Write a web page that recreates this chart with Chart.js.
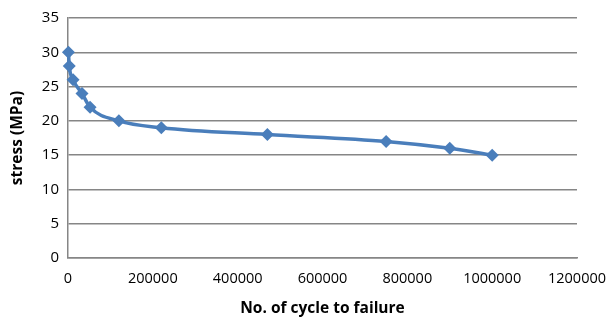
<!DOCTYPE html>
<html>
<head>
<meta charset="utf-8">
<script src="https://cdn.jsdelivr.net/npm/chart.js@4/dist/chart.umd.min.js"></script>
<style>
html,body{margin:0;padding:0;background:#fff;}
#wrap{width:609px;height:322px;}
</style>
</head>
<body>
<div id="wrap"><canvas id="c" width="609" height="322"></canvas></div>
<script>
const cycles = [1000, 3000, 12000, 33000, 52000, 120000, 220000, 470000, 750000, 900000, 1000000];
const stress = [30, 28, 26, 24, 22, 20, 19, 18, 17, 16, 15];
const xTicks = [0, 200000, 400000, 600000, 800000, 1000000, 1200000];
const yTicks = [0, 5, 10, 15, 20, 25, 30, 35];
const xTitle = 'No. of cycle to failure';
const yTitle = 'stress (MPa)';

const pts = cycles.map((x, i) => ({x: x, y: stress[i]}));
const FONT = 'Open Sans';

new Chart(document.getElementById('c'), {
  type: 'scatter',
  data: {
    datasets: [{
      data: pts,
      showLine: true,
      clip: false,
      borderColor: '#4A7EBB',
      backgroundColor: '#4A7EBB',
      borderWidth: 3.5,
      cubicInterpolationMode: 'monotone',
      pointStyle: 'rectRot',
      pointRadius: 6.5,
      pointHoverRadius: 6.5,
      pointBorderWidth: 0
    }]
  },
  options: {
    responsive: false,
    animation: false,
    devicePixelRatio: 1,
    layout: {padding: {top: 16, right: 20, left: 4, bottom: 0}},
    plugins: {legend: {display: false}, tooltip: {enabled: false}},
    scales: {
      x: {
        type: 'linear',
        min: 0, max: 1200000,
        afterBuildTicks: s => { s.ticks = xTicks.map(v => ({value: v})); },
        afterFit: s => { s.height = 64; s.paddingRight = 32; s.paddingLeft = 0; },
        grid: {display: false, drawTicks: false},
        border: {display: true, color: '#868686', width: 1.5},
        ticks: {color: '#000', font: {family: FONT, size: 14.5}, padding: 12, maxRotation: 0, autoSkip: false,
                callback: v => String(v)},
        title: {display: true, text: xTitle, color: '#000', font: {family: FONT, size: 15.5, weight: 'bold'}, padding: {top: 8}}
      },
      y: {
        min: 0, max: 35,
        afterBuildTicks: s => { s.ticks = yTicks.map(v => ({value: v})); },
        afterFit: s => { s.width = 64; },
        grid: {color: '#868686', lineWidth: 1.5, drawTicks: false},
        border: {display: true, color: '#868686', width: 1.5},
        ticks: {color: '#000', font: {family: FONT, size: 15}, padding: 9},
        title: {display: true, text: yTitle, color: '#000', font: {family: FONT, size: 15.5, weight: 'bold'}, padding: {bottom: 0}}
      }
    }
  }
});
</script>
</body>
</html>
